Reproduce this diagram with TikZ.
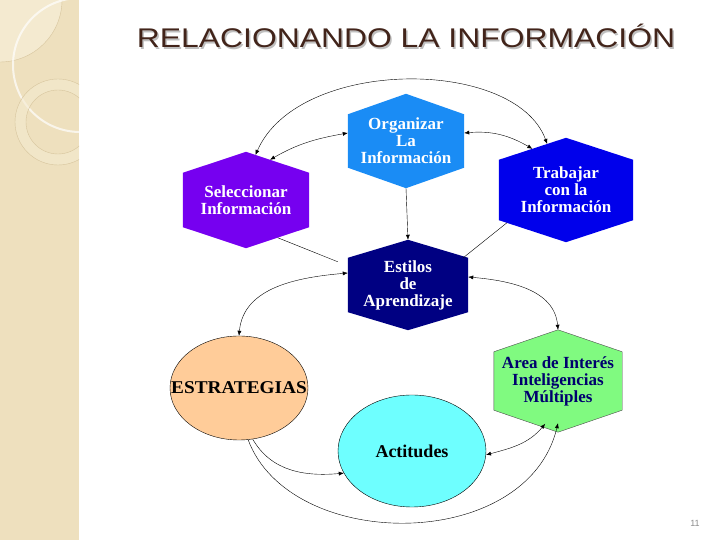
\documentclass[tikz,border=0pt]{standalone}
\usepackage{fontspec}
\usepackage{graphicx}
\setmainfont{Liberation Serif}
\newfontfamily\titlefont{Liberation Sans}
\usetikzlibrary{shapes.geometric, arrows.meta, calc, backgrounds}
\definecolor{cBand}{RGB}{238,224,190}
\definecolor{cBandLight}{RGB}{244,234,208}
\definecolor{cBandLine}{RGB}{214,196,156}
\definecolor{cTitle}{RGB}{66,36,26}
\definecolor{cOrg}{RGB}{26,140,245}
\definecolor{cSel}{RGB}{118,0,240}
\definecolor{cTrab}{RGB}{0,0,235}
\definecolor{cEst}{RGB}{0,0,130}
\definecolor{cArea}{RGB}{128,250,128}
\definecolor{cAreaTxt}{RGB}{0,0,110}
\definecolor{cEstr}{RGB}{255,204,153}
\definecolor{cAct}{RGB}{110,255,255}
\tikzset{
	hexbox/.style ={rectangle, inner sep=0pt, align=center, text=white, font=\fontsize{17}{17}\selectfont\bfseries},
	ovalbox/.style={ellipse, draw=black, thin, inner sep=0pt, align=center, font=\fontsize{18}{18}\selectfont\bfseries},
	link/.style   ={thin, black},
	sig/.style    ={-{Latex[length=5pt,width=4pt]}, thin},
	sigg/.style   ={{Latex[length=5pt,width=4pt]}-{Latex[length=5pt,width=4pt]}, thin},
}
% hexagon behind a node: node name, fill options, rise of the tip
\newcommand{\hexfill}[3]{%
	\path[#2] (#1.north west) -- ($(#1.north)+(0,#3)$) coordinate (#1-t) -- (#1.north east)
		-- (#1.south east) -- ($(#1.south)+(0,-#3)$) coordinate (#1-b) -- (#1.south west) -- cycle;}

\begin{document}
\begin{tikzpicture}[x=1pt, y=1pt]
	\useasboundingbox (0,0) rectangle (720,540);
	% side band
	\fill[cBand] (0,0) rectangle (79,540);
	\begin{scope}
		\clip (0,0) rectangle (79,540);
		\filldraw[fill=cBandLight, draw=cBandLine, thin] (0,540) circle (62);
		\draw[white, line width=2pt, opacity=0.7] (80,475) circle (67);
		\filldraw[fill=cBandLight, fill opacity=0.6, draw=cBandLine, thin, even odd rule] (58,418) circle (43) (58,418) circle (32);
	\end{scope}
	% title
	\node[text=black!25, anchor=base] (titleshadow) at (407.5,490.5) {\titlefont\fontsize{27}{27}\selectfont\scalebox{1.18}[1]{RELACIONANDO LA INFORMACIÓN}};
	\node[text=cTitle, anchor=base] (title) at (406,492) {\titlefont\fontsize{27}{27}\selectfont\scalebox{1.18}[1]{RELACIONANDO LA INFORMACIÓN}};
	% nodes
	\node[hexbox, minimum width=116pt, minimum height=53pt] (org) at (406,399) {Organizar\\La\\Información};
	\node[hexbox, minimum width=126pt, minimum height=54pt] (sel) at (246,340) {Seleccionar\\Información};
	\node[hexbox, minimum width=134pt, minimum height=60pt] (trab) at (566,350) {Trabajar\\con la\\Información};
	\node[hexbox, minimum width=120pt, minimum height=54pt] (est) at (408,255) {Estilos\\de\\Aprendizaje};
	\node[hexbox, minimum width=128pt, minimum height=58pt, text=cAreaTxt] (area) at (558,159) {Area de Interés\\Inteligencias\\Múltiples};
	\node[ovalbox, fill=cEstr, minimum width=138pt, minimum height=104pt] (estr) at (239,152) {\makebox[0pt]{\scalebox{1.07}[1]{ESTRATEGIAS}}};
	\node[ovalbox, fill=cAct, minimum width=148pt, minimum height=112pt] (act) at (412,89) {Actitudes};
	\begin{scope}[on background layer]
		\hexfill{org}{fill=cOrg}{20.5}
		\hexfill{sel}{fill=cSel}{21}
		\hexfill{trab}{fill=cTrab}{22}
		\hexfill{est}{fill=cEst}{18}
		\hexfill{area}{fill=cArea, draw=black!70, thin}{22}
	\end{scope}
	% connectors
	\draw[sigg] ($(trab-t)!0.28!(trab.north west)$) .. controls +(-32,87) and +(43,98) .. ($(sel-t)!0.15!(sel.north east)$);
	\draw[sigg] ($(sel-t)!0.38!(sel.north east)$) to[out=30, in=190] ([yshift=8pt]org.west);
	\draw[sigg] ([yshift=8pt]org.east) to[out=5, in=150] ($(trab-t)!0.5!(trab.north west)$);
	\draw[sig] (org-b) -- (est-t);
	\draw[link] ($(sel-b)!0.5!(sel.south east)$) -- ([xshift=-10pt, yshift=-4pt]est.north west);
	\draw[link] ($(trab.south west)!0.12!(trab-b)$) -- ([xshift=-5pt]est.north east);
	\draw[sigg] ([yshift=12pt]est.west) to[out=185, in=85] (estr.north);
	\draw[sigg] ([yshift=8pt]est.east) to[out=-5, in=95] (area-t);
	\draw[sig] (estr.-75) to[out=-60, in=185] (act.198);
	\draw[sigg] (act.-3) to[out=15, in=230] ([yshift=4pt]$(area-b)!0.2!(area.south west)$);
	\draw[sig] (estr.-80) .. controls +(42,-113) and +(-31,-130) .. ([yshift=9pt]area-b);
	% page number
	\node[text=black!45, font=\titlefont\fontsize{9}{9}\selectfont] (pnum) at (695,17) {11};
\end{tikzpicture}
\end{document}
